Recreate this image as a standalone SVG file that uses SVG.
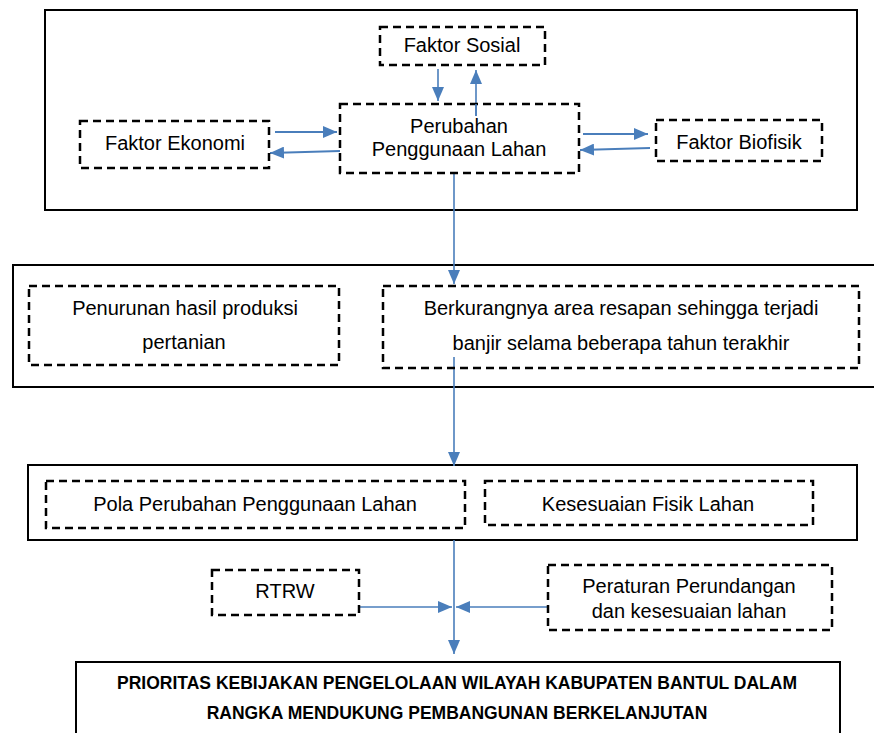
<svg xmlns="http://www.w3.org/2000/svg" width="874" height="733" viewBox="0 0 874 733">
<defs>
<marker id="ah" viewBox="0 0 14 12" refX="14" refY="6" markerWidth="14" markerHeight="12" markerUnits="userSpaceOnUse" orient="auto">
<path d="M0,0 L14,6 L0,12 Z" fill="#4A7EBB"/>
</marker>
<style>
.frame{fill:none;stroke:#000;stroke-width:2}
.dash{fill:#fff;stroke:#000;stroke-width:2.5;stroke-dasharray:8,5}
.t{font-family:"Liberation Sans",Arial,sans-serif;font-size:20px;fill:#000;text-anchor:middle}
.b{font-family:"Liberation Sans",Arial,sans-serif;font-size:17.5px;font-weight:bold;fill:#000;text-anchor:middle}
.c{fill:none;stroke:#4A7EBB;stroke-width:1.6}
.cw{fill:none;stroke:#4A7EBB;stroke-width:2}
</style>
</defs>
<rect x="0" y="0" width="874" height="733" fill="#fff"/>

<g id="frames">
<rect id="frame1" class="frame" x="45" y="10" width="812" height="200"/>
<rect id="frame2" class="frame" x="13" y="265" width="870" height="122"/>
<rect id="frame3" class="frame" x="28" y="465" width="829" height="75"/>
</g>

<g id="connectors">
<line class="c" x1="438" y1="69" x2="438" y2="101" marker-end="url(#ah)"/>
<line class="c" x1="476" y1="116" x2="476" y2="70" marker-end="url(#ah)"/>
<line class="cw" x1="275" y1="132" x2="337" y2="132" marker-end="url(#ah)"/>
<line class="cw" x1="340" y1="151" x2="270" y2="153" marker-end="url(#ah)"/>
<line class="cw" x1="583" y1="134" x2="648" y2="134" marker-end="url(#ah)"/>
<line class="cw" x1="650" y1="148" x2="580" y2="150" marker-end="url(#ah)"/>
<line class="c" x1="454" y1="173" x2="454" y2="284" marker-end="url(#ah)"/>
<line class="c" x1="454" y1="357" x2="454" y2="466" marker-end="url(#ah)"/>
<line class="c" x1="454" y1="540" x2="454" y2="654" marker-end="url(#ah)"/>
<line class="c" x1="359" y1="607" x2="452" y2="607" marker-end="url(#ah)"/>
<line class="c" x1="547" y1="607" x2="456" y2="607" marker-end="url(#ah)"/>
</g>

<g id="faktor-sosial">
<rect class="dash" x="380" y="27" width="165" height="38"/>
<text class="t" x="462" y="52">Faktor Sosial</text>
</g>
<g id="perubahan">
<rect class="dash" x="340" y="104" width="239" height="69" fill-opacity="0"/>
<text class="t" x="459" y="133">Perubahan</text>
<text class="t" x="459" y="156">Penggunaan Lahan</text>
</g>
<line class="c" x1="476" y1="116" x2="476" y2="104"/>
<g id="faktor-ekonomi">
<rect class="dash" x="80" y="121" width="189" height="47"/>
<text class="t" x="175" y="150">Faktor Ekonomi</text>
</g>
<g id="faktor-biofisik">
<rect class="dash" x="656" y="120" width="166" height="41"/>
<text class="t" x="739" y="149">Faktor Biofisik</text>
</g>

<g id="penurunan">
<rect class="dash" x="29" y="286" width="310" height="79"/>
<text class="t" x="185" y="315">Penurunan hasil produksi</text>
<text class="t" x="184" y="349">pertanian</text>
</g>
<g id="berkurangnya">
<rect class="dash" x="383" y="286" width="476" height="82" fill-opacity="0"/>
<text class="t" x="621" y="315">Berkurangnya area resapan sehingga terjadi</text>
<text class="t" x="621" y="350">banjir selama beberapa tahun terakhir</text>
</g>

<g id="pola">
<rect class="dash" x="46" y="481" width="419" height="47"/>
<text class="t" x="255" y="511">Pola Perubahan Penggunaan Lahan</text>
</g>
<g id="kesesuaian">
<rect class="dash" x="485" y="481" width="328" height="44"/>
<text class="t" x="648" y="511">Kesesuaian Fisik Lahan</text>
</g>

<g id="rtrw">
<rect class="dash" x="212" y="570" width="147" height="45"/>
<text class="t" x="285" y="598">RTRW</text>
</g>
<g id="peraturan">
<rect class="dash" x="548" y="565" width="284" height="65"/>
<text class="t" x="689" y="593">Peraturan Perundangan</text>
<text class="t" x="689" y="618">dan kesesuaian lahan</text>
</g>

<g id="prioritas">
<rect class="frame" x="76" y="662" width="764" height="90" fill="#fff"/>
<text class="b" x="457" y="689">PRIORITAS KEBIJAKAN PENGELOLAAN WILAYAH KABUPATEN BANTUL DALAM</text>
<text class="b" x="457" y="719">RANGKA MENDUKUNG PEMBANGUNAN BERKELANJUTAN</text>
</g>
</svg>
